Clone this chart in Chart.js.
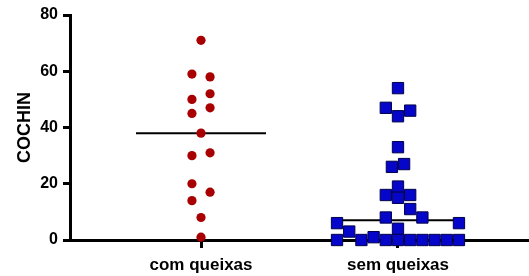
<!DOCTYPE html>
<html>
<head>
<meta charset="utf-8">
<script src="https://cdn.jsdelivr.net/npm/chart.js@4"></script>
<style>
  html, body { margin: 0; padding: 0; background: #fff; }
  #wrap { width: 529px; height: 276px; }
</style>
</head>
<body>
<div id="wrap"><canvas id="chart" width="529" height="276"></canvas></div>
<script>
// categorias
const categories = ['com queixas', 'sem queixas'];

// valores COCHIN por grupo, com a coluna (posição no enxame) de cada ponto
const comValues = [71, 59, 58, 52, 50, 47, 45, 38, 31, 30, 20, 17, 14, 8, 1];
const comCols   = [0, -1, 1, 1, -1, 1, -1, 0, 1, -1, -1, 1, -1, 0, 0];

const semValues = [54, 47, 46, 44, 33, 27, 26, 19, 16, 16, 15, 11, 8, 8, 6, 6, 4, 3, 1,
                   0, 0, 0, 0, 0, 0, 0, 0, 0];
const semCols   = [0, -1, 1, 0, 0, 0.5, -0.5, 0, -1, 1, 0, 1, -1, 2, -5, 5, 0, -4, -2,
                   -5, -3, -1, 0, 1, 2, 3, 4, 5];

// medianas
const medians = [38, 7];

const yTicks = [0, 20, 40, 60, 80];

function points(values, cols, center, step) {
    return values.map((v, i) => ({ x: center + cols[i] * step, y: v }));
}

const HALF = 0.33;
const FONT = '"Liberation Sans", Arial, sans-serif';

const ctx = document.getElementById('chart').getContext('2d');
new Chart(ctx, {
    type: 'scatter',
    data: {
        datasets: [
            {
                label: categories[0],
                data: points(comValues, comCols, 1, 0.046),
                pointStyle: 'circle',
                pointRadius: 4.6,
                backgroundColor: '#A80000',
                borderColor: '#A80000',
                borderWidth: 0,
                clip: false,
                order: 0
            },
            {
                label: categories[1],
                data: points(semValues, semCols, 2, 0.0619),
                pointStyle: 'rect',
                pointRadius: 8,
                backgroundColor: '#0606CA',
                borderColor: '#00004A',
                borderWidth: 1,
                clip: false,
                order: 0
            },
            {
                type: 'line',
                label: 'mediana com',
                data: [{ x: 1 - HALF, y: medians[0] }, { x: 1 + HALF, y: medians[0] }],
                borderColor: '#000',
                borderWidth: 2,
                pointRadius: 0,
                order: 1
            },
            {
                type: 'line',
                label: 'mediana sem',
                data: [{ x: 2 - HALF, y: medians[1] }, { x: 2 + HALF, y: medians[1] }],
                borderColor: '#000',
                borderWidth: 2,
                pointRadius: 0,
                order: 1
            }
        ]
    },
    options: {
        responsive: false,
        animation: false,
        layout: {
            autoPadding: false,
            padding: { top: 15, right: 0, left: 0, bottom: 0 }
        },
        plugins: {
            legend: { display: false },
            tooltip: { enabled: false }
        },
        scales: {
            x: {
                type: 'linear',
                min: 0.335,
                max: 2.665,
                afterBuildTicks: (scale) => {
                    scale.ticks = categories.map((c, i) => ({ value: i + 1 }));
                },
                afterFit: (scale) => {
                    scale.height = 36;
                    scale.paddingLeft = 0;
                    scale.paddingRight = 0;
                },
                ticks: {
                    color: '#000',
                    font: { family: FONT, size: 17, weight: 'bold' },
                    padding: 7,
                    callback: (v) => categories[Math.round(v) - 1]
                },
                grid: {
                    drawOnChartArea: false,
                    drawTicks: true,
                    tickLength: 8,
                    tickWidth: 3,
                    tickColor: '#000'
                },
                border: { display: true, width: 3, color: '#000' }
            },
            y: {
                min: 0,
                max: 80,
                afterBuildTicks: (scale) => {
                    scale.ticks = yTicks.map(v => ({ value: v }));
                },
                afterFit: (scale) => { scale.width = 70; },
                ticks: {
                    color: '#000',
                    font: { family: FONT, size: 16, weight: 'bold' },
                    padding: 5
                },
                grid: {
                    drawOnChartArea: false,
                    drawTicks: true,
                    tickLength: 7,
                    tickWidth: 3,
                    tickColor: '#000'
                },
                border: { display: true, width: 3, color: '#000' },
                title: {
                    display: true,
                    text: 'COCHIN',
                    color: '#000',
                    font: { family: FONT, size: 18, weight: 'bold' },
                    padding: { top: 14, bottom: 0 }
                }
            }
        }
    }
});
</script>
</body>
</html>
